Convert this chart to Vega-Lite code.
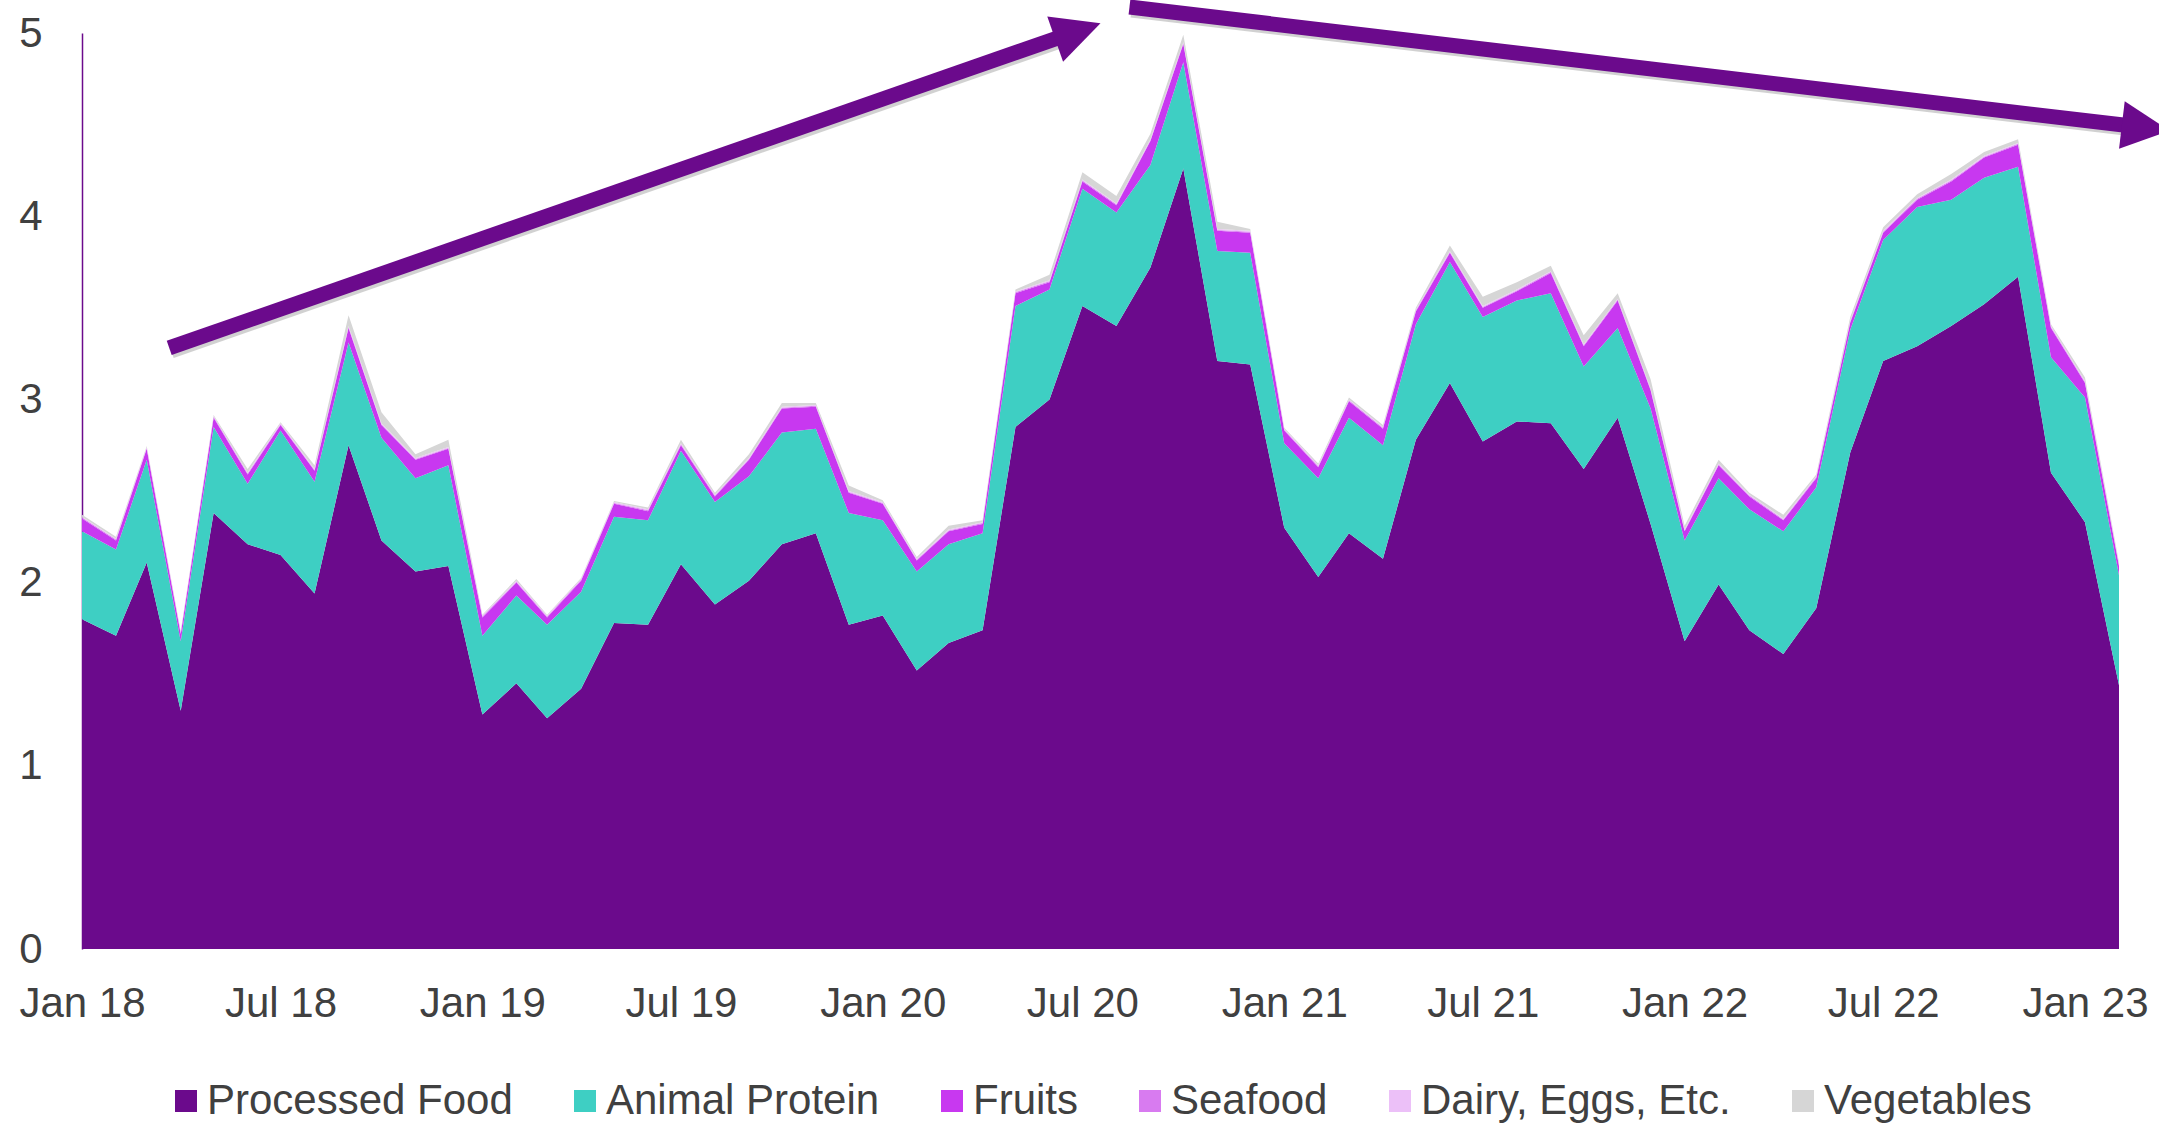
{
  "$schema": "https://vega.github.io/schema/vega-lite/v6.json",
  "width": 2037,
  "height": 916,
  "autosize": {"type": "none"},
  "padding": {"left": 82, "top": 33, "right": 40, "bottom": 174},
  "background": "white",
  "config": {
    "view": {"stroke": null},
    "font": "Liberation Sans"
  },
  "datasets": {
    "food": [
      {"month": "2018-01-01", "processed": 1.80, "animal": 0.48, "fruits": 0.07, "seafood": 0.005, "dairy": 0.005, "vegetables": 0.01},
      {"month": "2018-02-01", "processed": 1.71, "animal": 0.47, "fruits": 0.05, "seafood": 0.005, "dairy": 0.005, "vegetables": 0.01},
      {"month": "2018-03-01", "processed": 2.11, "animal": 0.56, "fruits": 0.06, "seafood": 0.005, "dairy": 0.005, "vegetables": 0.005},
      {"month": "2018-04-01", "processed": 1.30, "animal": 0.38, "fruits": 0.04, "seafood": 0.005, "dairy": 0.005, "vegetables": 0.005},
      {"month": "2018-05-01", "processed": 2.38, "animal": 0.47, "fruits": 0.05, "seafood": 0.005, "dairy": 0.005, "vegetables": 0.005},
      {"month": "2018-06-01", "processed": 2.21, "animal": 0.33, "fruits": 0.05, "seafood": 0.005, "dairy": 0.005, "vegetables": 0.02},
      {"month": "2018-07-01", "processed": 2.15, "animal": 0.68, "fruits": 0.03, "seafood": 0.005, "dairy": 0.005, "vegetables": 0.005},
      {"month": "2018-08-01", "processed": 1.94, "animal": 0.61, "fruits": 0.06, "seafood": 0.005, "dairy": 0.005, "vegetables": 0.02},
      {"month": "2018-09-01", "processed": 2.75, "animal": 0.56, "fruits": 0.08, "seafood": 0.005, "dairy": 0.005, "vegetables": 0.06},
      {"month": "2018-10-01", "processed": 2.23, "animal": 0.56, "fruits": 0.07, "seafood": 0.005, "dairy": 0.005, "vegetables": 0.06},
      {"month": "2018-11-01", "processed": 2.06, "animal": 0.51, "fruits": 0.10, "seafood": 0.005, "dairy": 0.005, "vegetables": 0.02},
      {"month": "2018-12-01", "processed": 2.09, "animal": 0.55, "fruits": 0.09, "seafood": 0.005, "dairy": 0.005, "vegetables": 0.04},
      {"month": "2019-01-01", "processed": 1.28, "animal": 0.43, "fruits": 0.10, "seafood": 0.005, "dairy": 0.005, "vegetables": 0.005},
      {"month": "2019-02-01", "processed": 1.45, "animal": 0.48, "fruits": 0.07, "seafood": 0.005, "dairy": 0.005, "vegetables": 0.01},
      {"month": "2019-03-01", "processed": 1.26, "animal": 0.51, "fruits": 0.04, "seafood": 0.005, "dairy": 0.005, "vegetables": 0.005},
      {"month": "2019-04-01", "processed": 1.42, "animal": 0.53, "fruits": 0.06, "seafood": 0.005, "dairy": 0.005, "vegetables": 0.005},
      {"month": "2019-05-01", "processed": 1.78, "animal": 0.58, "fruits": 0.07, "seafood": 0.005, "dairy": 0.005, "vegetables": 0.005},
      {"month": "2019-06-01", "processed": 1.77, "animal": 0.57, "fruits": 0.05, "seafood": 0.005, "dairy": 0.005, "vegetables": 0.01},
      {"month": "2019-07-01", "processed": 2.10, "animal": 0.62, "fruits": 0.03, "seafood": 0.005, "dairy": 0.005, "vegetables": 0.02},
      {"month": "2019-08-01", "processed": 1.88, "animal": 0.56, "fruits": 0.03, "seafood": 0.005, "dairy": 0.005, "vegetables": 0.01},
      {"month": "2019-09-01", "processed": 2.01, "animal": 0.57, "fruits": 0.09, "seafood": 0.005, "dairy": 0.005, "vegetables": 0.02},
      {"month": "2019-10-01", "processed": 2.21, "animal": 0.61, "fruits": 0.13, "seafood": 0.005, "dairy": 0.005, "vegetables": 0.02},
      {"month": "2019-11-01", "processed": 2.27, "animal": 0.57, "fruits": 0.12, "seafood": 0.005, "dairy": 0.005, "vegetables": 0.01},
      {"month": "2019-12-01", "processed": 1.77, "animal": 0.61, "fruits": 0.11, "seafood": 0.005, "dairy": 0.005, "vegetables": 0.03},
      {"month": "2020-01-01", "processed": 1.82, "animal": 0.52, "fruits": 0.09, "seafood": 0.005, "dairy": 0.005, "vegetables": 0.01},
      {"month": "2020-02-01", "processed": 1.52, "animal": 0.54, "fruits": 0.06, "seafood": 0.005, "dairy": 0.005, "vegetables": 0.01},
      {"month": "2020-03-01", "processed": 1.67, "animal": 0.54, "fruits": 0.07, "seafood": 0.005, "dairy": 0.005, "vegetables": 0.02},
      {"month": "2020-04-01", "processed": 1.74, "animal": 0.53, "fruits": 0.05, "seafood": 0.005, "dairy": 0.005, "vegetables": 0.01},
      {"month": "2020-05-01", "processed": 2.85, "animal": 0.66, "fruits": 0.07, "seafood": 0.005, "dairy": 0.005, "vegetables": 0.01},
      {"month": "2020-06-01", "processed": 3.00, "animal": 0.60, "fruits": 0.04, "seafood": 0.005, "dairy": 0.005, "vegetables": 0.03},
      {"month": "2020-07-01", "processed": 3.51, "animal": 0.64, "fruits": 0.04, "seafood": 0.005, "dairy": 0.005, "vegetables": 0.04},
      {"month": "2020-08-01", "processed": 3.40, "animal": 0.62, "fruits": 0.04, "seafood": 0.005, "dairy": 0.005, "vegetables": 0.04},
      {"month": "2020-09-01", "processed": 3.72, "animal": 0.56, "fruits": 0.13, "seafood": 0.005, "dairy": 0.005, "vegetables": 0.03},
      {"month": "2020-10-01", "processed": 4.26, "animal": 0.58, "fruits": 0.10, "seafood": 0.005, "dairy": 0.005, "vegetables": 0.04},
      {"month": "2020-11-01", "processed": 3.21, "animal": 0.60, "fruits": 0.11, "seafood": 0.005, "dairy": 0.005, "vegetables": 0.04},
      {"month": "2020-12-01", "processed": 3.19, "animal": 0.61, "fruits": 0.11, "seafood": 0.005, "dairy": 0.005, "vegetables": 0.01},
      {"month": "2021-01-01", "processed": 2.30, "animal": 0.46, "fruits": 0.07, "seafood": 0.005, "dairy": 0.005, "vegetables": 0.005},
      {"month": "2021-02-01", "processed": 2.03, "animal": 0.54, "fruits": 0.06, "seafood": 0.005, "dairy": 0.005, "vegetables": 0.01},
      {"month": "2021-03-01", "processed": 2.27, "animal": 0.63, "fruits": 0.09, "seafood": 0.005, "dairy": 0.005, "vegetables": 0.01},
      {"month": "2021-04-01", "processed": 2.13, "animal": 0.62, "fruits": 0.09, "seafood": 0.005, "dairy": 0.005, "vegetables": 0.01},
      {"month": "2021-05-01", "processed": 2.78, "animal": 0.63, "fruits": 0.07, "seafood": 0.005, "dairy": 0.005, "vegetables": 0.01},
      {"month": "2021-06-01", "processed": 3.09, "animal": 0.66, "fruits": 0.05, "seafood": 0.005, "dairy": 0.005, "vegetables": 0.03},
      {"month": "2021-07-01", "processed": 2.77, "animal": 0.68, "fruits": 0.05, "seafood": 0.005, "dairy": 0.005, "vegetables": 0.05},
      {"month": "2021-08-01", "processed": 2.88, "animal": 0.66, "fruits": 0.05, "seafood": 0.005, "dairy": 0.005, "vegetables": 0.04},
      {"month": "2021-09-01", "processed": 2.87, "animal": 0.71, "fruits": 0.11, "seafood": 0.005, "dairy": 0.005, "vegetables": 0.03},
      {"month": "2021-10-01", "processed": 2.62, "animal": 0.56, "fruits": 0.11, "seafood": 0.005, "dairy": 0.005, "vegetables": 0.05},
      {"month": "2021-11-01", "processed": 2.90, "animal": 0.49, "fruits": 0.15, "seafood": 0.005, "dairy": 0.005, "vegetables": 0.03},
      {"month": "2021-12-01", "processed": 2.32, "animal": 0.63, "fruits": 0.10, "seafood": 0.005, "dairy": 0.005, "vegetables": 0.05},
      {"month": "2022-01-01", "processed": 1.68, "animal": 0.55, "fruits": 0.05, "seafood": 0.005, "dairy": 0.005, "vegetables": 0.02},
      {"month": "2022-02-01", "processed": 1.99, "animal": 0.58, "fruits": 0.07, "seafood": 0.005, "dairy": 0.005, "vegetables": 0.02},
      {"month": "2022-03-01", "processed": 1.74, "animal": 0.66, "fruits": 0.07, "seafood": 0.005, "dairy": 0.005, "vegetables": 0.01},
      {"month": "2022-04-01", "processed": 1.61, "animal": 0.67, "fruits": 0.06, "seafood": 0.005, "dairy": 0.005, "vegetables": 0.02},
      {"month": "2022-05-01", "processed": 1.86, "animal": 0.66, "fruits": 0.05, "seafood": 0.005, "dairy": 0.005, "vegetables": 0.01},
      {"month": "2022-06-01", "processed": 2.71, "animal": 0.67, "fruits": 0.04, "seafood": 0.005, "dairy": 0.005, "vegetables": 0.02},
      {"month": "2022-07-01", "processed": 3.21, "animal": 0.66, "fruits": 0.04, "seafood": 0.005, "dairy": 0.005, "vegetables": 0.02},
      {"month": "2022-08-01", "processed": 3.29, "animal": 0.76, "fruits": 0.04, "seafood": 0.005, "dairy": 0.005, "vegetables": 0.02},
      {"month": "2022-09-01", "processed": 3.40, "animal": 0.69, "fruits": 0.10, "seafood": 0.005, "dairy": 0.005, "vegetables": 0.03},
      {"month": "2022-10-01", "processed": 3.52, "animal": 0.69, "fruits": 0.11, "seafood": 0.005, "dairy": 0.005, "vegetables": 0.02},
      {"month": "2022-11-01", "processed": 3.67, "animal": 0.60, "fruits": 0.12, "seafood": 0.005, "dairy": 0.005, "vegetables": 0.02},
      {"month": "2022-12-01", "processed": 2.60, "animal": 0.63, "fruits": 0.16, "seafood": 0.005, "dairy": 0.005, "vegetables": 0.01},
      {"month": "2023-01-01", "processed": 2.33, "animal": 0.68, "fruits": 0.08, "seafood": 0.005, "dairy": 0.005, "vegetables": 0.02},
      {"month": "2023-02-01", "processed": 1.44, "animal": 0.60, "fruits": 0.05, "seafood": 0.005, "dairy": 0.005, "vegetables": 0.01}
    ],
    "arrows": [
      {"id": 1, "x0": "2018-03-21T12:00:00Z", "y0": 3.281, "x1": "2020-06-14T17:00:00Z", "y1": 4.986, "tx": "2020-07-17T12:00:00Z", "ty": 5.053},
      {"id": 2, "x0": "2020-08-12T22:00:00Z", "y0": 5.142, "x1": "2023-02-12T17:00:00Z", "y1": 4.492, "tx": "2023-03-19T02:00:00Z", "ty": 4.467}
    ]
  },
  "layer": [
    {
      "data": {"name": "food"},
      "transform": [
        {"fold": ["processed", "animal", "fruits", "seafood", "dairy", "vegetables"], "as": ["cat", "val"]},
        {"calculate": "indexof(['processed', 'animal', 'fruits', 'seafood', 'dairy', 'vegetables'], datum.cat)", "as": "ord"}
      ],
      "mark": {"type": "area", "interpolate": "linear"},
      "encoding": {
        "x": {
          "field": "month", "type": "temporal", "title": null,
          "scale": {"type": "utc", "domain": [{"year": 2018, "month": 1, "date": 1, "utc": true}, {"year": 2023, "month": 2, "date": 1, "utc": true}], "nice": false},
          "axis": {
            "values": [
              {"year": 2018, "month": 1, "date": 1, "utc": true},
              {"year": 2018, "month": 7, "date": 1, "utc": true},
              {"year": 2019, "month": 1, "date": 1, "utc": true},
              {"year": 2019, "month": 7, "date": 1, "utc": true},
              {"year": 2020, "month": 1, "date": 1, "utc": true},
              {"year": 2020, "month": 7, "date": 1, "utc": true},
              {"year": 2021, "month": 1, "date": 1, "utc": true},
              {"year": 2021, "month": 7, "date": 1, "utc": true},
              {"year": 2022, "month": 1, "date": 1, "utc": true},
              {"year": 2022, "month": 7, "date": 1, "utc": true},
              {"year": 2023, "month": 1, "date": 1, "utc": true}
            ],
            "format": "%b %y",
            "labelFontSize": 42,
            "labelColor": "#404040",
            "labelFont": "Liberation Sans",
            "ticks": false,
            "domain": false,
            "grid": false,
            "labelPadding": 34,
            "labelFlush": false,
            "labelOverlap": false,
            "labelBound": false
          }
        },
        "y": {
          "field": "val", "type": "quantitative", "stack": "zero", "title": null,
          "scale": {"domain": [0, 5], "nice": false},
          "axis": {
            "values": [0, 1, 2, 3, 4, 5],
            "format": "d",
            "labelFontSize": 42,
            "labelColor": "#404040",
            "labelFont": "Liberation Sans",
            "ticks": false,
            "grid": false,
            "domainColor": "#6B0A8C",
            "domainWidth": 1.5,
            "labelPadding": 40
          }
        },
        "color": {
          "field": "cat", "type": "nominal", "title": null,
          "scale": {
            "domain": ["processed", "animal", "fruits", "seafood", "dairy", "vegetables"],
            "range": ["#6B0A8C", "#3ECFC3", "#C838F0", "#D87BF0", "#ECC0F8", "#D6D6D6"]
          },
          "legend": {
            "orient": "none",
            "legendX": 83,
            "legendY": 1047,
            "direction": "horizontal",
            "symbolType": "square",
            "symbolSize": 484,
            "symbolStrokeWidth": 0,
            "symbolOpacity": 1,
            "labelFontSize": 42,
            "labelColor": "#404040",
            "labelFont": "Liberation Sans",
            "labelOffset": 0,
            "labelLimit": 600,
            "columnPadding": 51,
            "padding": 0,
            "labelExpr": "datum.value == 'processed' ? 'Processed Food' : datum.value == 'animal' ? 'Animal Protein' : datum.value == 'fruits' ? 'Fruits' : datum.value == 'seafood' ? 'Seafood' : datum.value == 'dairy' ? 'Dairy, Eggs, Etc.' : 'Vegetables'"
          }
        },
        "order": {"field": "ord", "type": "quantitative", "sort": "ascending"}
      }
    },
    {
      "data": {"name": "arrows"},
      "mark": {"type": "rule", "color": "#9a9a9a", "opacity": 0.45, "strokeWidth": 15, "strokeCap": "butt", "xOffset": 2, "x2Offset": 2, "yOffset": 3, "y2Offset": 3},
      "encoding": {
        "x": {"field": "x0", "type": "temporal", "title": null},
        "y": {"field": "y0", "type": "quantitative", "title": null},
        "x2": {"field": "x1"},
        "y2": {"field": "y1"}
      }
    },
    {
      "data": {"name": "arrows"},
      "mark": {"type": "rule", "color": "#6B0A8C", "strokeWidth": 15, "strokeCap": "butt"},
      "encoding": {
        "x": {"field": "x0", "type": "temporal", "title": null},
        "y": {"field": "y0", "type": "quantitative", "title": null},
        "x2": {"field": "x1"},
        "y2": {"field": "y1"}
      }
    },
    {
      "data": {"name": "arrows"},
      "transform": [{"filter": "datum.id == 1"}],
      "mark": {"type": "point", "shape": "M0,0L-1,-0.5L-1,0.5Z", "size": 9216, "filled": true, "color": "#6B0A8C", "opacity": 1, "strokeWidth": 0, "angle": 340.78},
      "encoding": {
        "x": {"field": "tx", "type": "temporal", "title": null},
        "y": {"field": "ty", "type": "quantitative", "title": null}
      }
    },
    {
      "data": {"name": "arrows"},
      "transform": [{"filter": "datum.id == 2"}],
      "mark": {"type": "point", "shape": "M0,0L-1,-0.5L-1,0.5Z", "size": 9216, "filled": true, "color": "#6B0A8C", "opacity": 1, "strokeWidth": 0, "angle": 6.78},
      "encoding": {
        "x": {"field": "tx", "type": "temporal", "title": null},
        "y": {"field": "ty", "type": "quantitative", "title": null}
      }
    }
  ]
}
